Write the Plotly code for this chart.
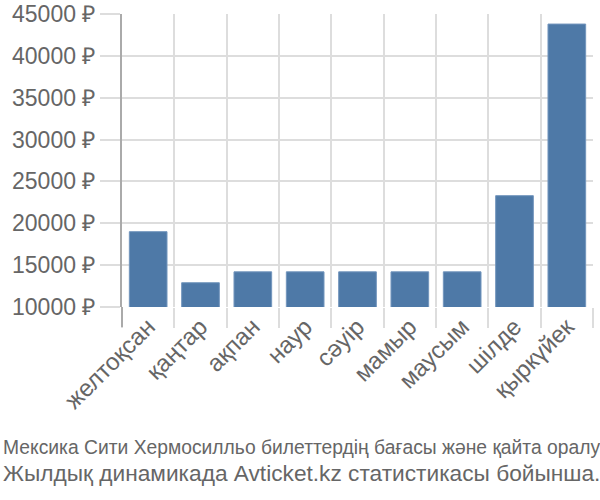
import plotly.graph_objects as go

months = ["желтоқсан", "қаңтар", "ақпан", "наур", "сәуір", "мамыр", "маусым", "шілде", "қыркүйек"]
prices = [19000, 12900, 14200, 14200, 14200, 14200, 14200, 23300, 43800]
y_ticks = [10000, 15000, 20000, 25000, 30000, 35000, 40000, 45000]
y_labels = [f"{v} ₽" for v in y_ticks]
title_lines = ["Мексика Сити Хермосилльо билеттердің бағасы және қайта оралу",
               "Жылдық динамикада Avticket.kz статистикасы бойынша."]
title_sizes = [19.3, 22.7]

L, R, T, B = 122, 7, 14, 193
W, H = 600, 500
pw, ph = W - L - R, H - T - B
TICKLEN = 20

fig = go.Figure(go.Bar(
    x=months, y=prices,
    marker=dict(color="#4e79a7", line=dict(color="#7396bd", width=1)),
))

fig.update_layout(
    width=W, height=H,
    margin=dict(l=L, r=R, t=T, b=B),
    plot_bgcolor="white", paper_bgcolor="white",
    bargap=0.28,
    showlegend=False,
    font=dict(family="Liberation Sans, Arial, sans-serif", color="#666666"),
)

for text, cy, fs in zip(title_lines, [447, 473], title_sizes):
    fig.add_annotation(
        text=text, showarrow=False,
        xref="paper", yref="paper",
        x=(1 - L) / pw, xanchor="left",
        y=(H - B - cy) / ph, yanchor="middle",
        font=dict(size=fs, color="#666666"),
    )

# extend the y-axis line below the plot like the reference
fig.add_shape(type="line", xref="paper", yref="paper",
              x0=0, x1=0, y0=0, y1=-TICKLEN / ph,
              line=dict(color="#aaaaaa", width=2), layer="above")

fig.update_xaxes(
    type="category", automargin=False,
    tickson="boundaries",
    ticks="outside", ticklen=TICKLEN, tickcolor="#dddddd", tickwidth=2,
    showgrid=True, gridcolor="#dddddd", gridwidth=2,
    tickangle=-45,
    tickfont=dict(size=24, color="#666666"),
    showline=False,
)

fig.update_yaxes(
    range=[10000, 45000], automargin=False,
    tickvals=y_ticks, ticktext=y_labels,
    ticks="outside", ticklen=TICKLEN, tickcolor="#dddddd", tickwidth=2,
    showgrid=True, gridcolor="#dddddd", gridwidth=2,
    tickfont=dict(size=23, color="#666666"),
    showline=True, linecolor="#aaaaaa", linewidth=2,
    zeroline=False,
)

fig.write_html("out.html", config={"displayModeBar": False},
               post_script="document.body.style.margin='0';")
